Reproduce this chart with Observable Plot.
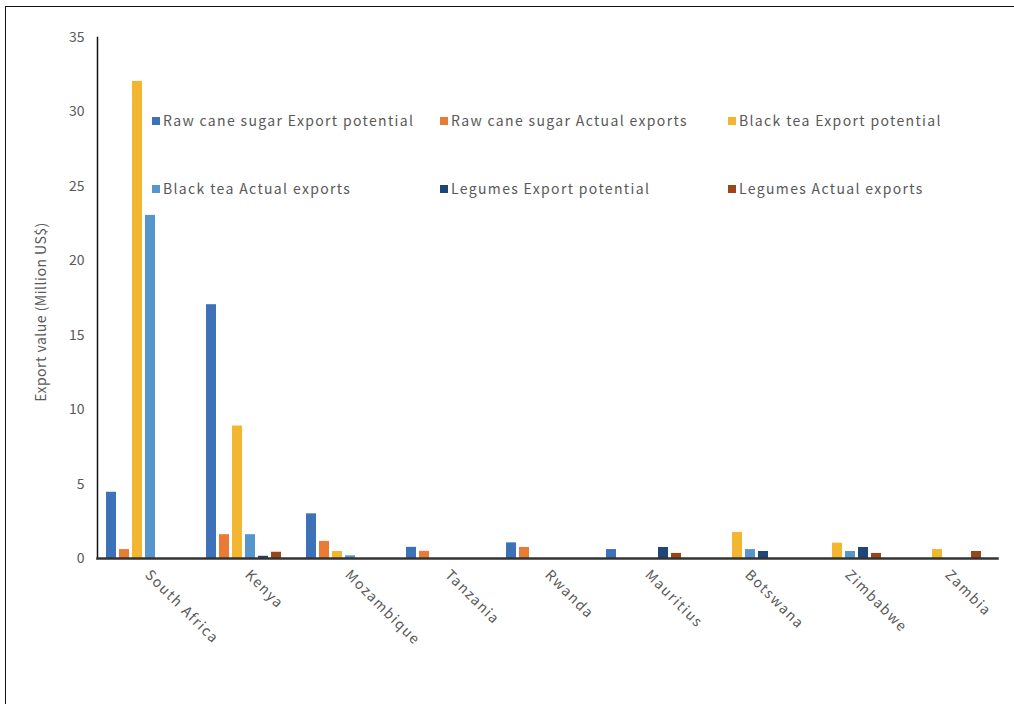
<!DOCTYPE html>
<html>
<head>
<meta charset="utf-8">
<script src="https://cdn.jsdelivr.net/npm/d3@7"></script>
<script src="https://cdn.jsdelivr.net/npm/@observablehq/plot@0.6"></script>
<style>
  html, body { margin: 0; padding: 0; background: #fff; overflow: hidden; }
  #wrap { position: relative; width: 1014px; height: 704px; }
  #border { position: absolute; left: 5px; top: 6px; width: 1100px; height: 900px; border: 1.5px solid #111; box-sizing: border-box; }
  #chart { position: absolute; left: 0; top: 0; }
  #legend { position: absolute; left: 0; top: 0; font-family: "Noto Sans CJK JP", "Noto Sans", sans-serif; font-size: 14px; color: #595959; letter-spacing: 1.35px; }
  .item { position: absolute; white-space: nowrap; line-height: 16px; }
  .sw { display: inline-block; width: 8px; height: 8px; margin-right: 3px; vertical-align: 1px; }
  #ylabel { position: absolute; left: 40px; top: 312px; transform: translate(-50%, -50%) rotate(-90deg); white-space: nowrap;
            font-family: "Noto Sans CJK JP", "Noto Sans", sans-serif; font-size: 14px; color: #595959; letter-spacing: 0.5px; }
  .fxax text { letter-spacing: 1.5px; }
</style>
</head>
<body>
<div id="wrap">
  <div id="border"></div>
  <div id="chart"></div>
  <div id="legend"></div>
  <div id="ylabel"></div>
</div>
<script>
const countries = ["South Africa", "Kenya", "Mozambique", "Tanzania", "Rwanda", "Mauritius", "Botswana", "Zimbabwe", "Zambia"];
const seriesNames = [
  "Raw cane sugar Export potential",
  "Raw cane sugar Actual exports",
  "Black tea Export potential",
  "Black tea Actual exports",
  "Legumes Export potential",
  "Legumes Actual exports"
];
const seriesColors = ["#3d71b8", "#ea7b34", "#f3b630", "#5696cd", "#1e4678", "#9a4619"];
const yLabel = "Export value (Million US$)";

const rawSugarPotential = [4.45, 17.05, 3.0, 0.75, 1.05, 0.6, 0, 0, 0];
const rawSugarActual    = [0.6, 1.6, 1.15, 0.48, 0.74, 0, 0, 0, 0];
const blackTeaPotential = [32.05, 8.9, 0.47, 0, 0, 0, 1.75, 1.03, 0.6];
const blackTeaActual    = [23.05, 1.6, 0.18, 0, 0, 0, 0.6, 0.47, 0];
const legumesPotential  = [0, 0.15, 0, 0, 0, 0.74, 0.47, 0.74, 0];
const legumesActual     = [0, 0.42, 0, 0, 0, 0.34, 0, 0.34, 0.47];

const yTicks = [0, 5, 10, 15, 20, 25, 30, 35];

const seriesValues = [rawSugarPotential, rawSugarActual, blackTeaPotential, blackTeaActual, legumesPotential, legumesActual];
const data = [];
countries.forEach((c, i) => {
  seriesNames.forEach((s, j) => {
    data.push({country: c, series: s, value: seriesValues[j][i]});
  });
});

const font = "'Noto Sans CJK JP', 'Noto Sans', sans-serif";

const chart = Plot.plot({
  width: 1014,
  height: 704,
  marginLeft: 94,
  marginRight: 14,
  marginTop: 37,
  marginBottom: 146,
  style: {fontFamily: font, fontSize: "14px", color: "#595959", background: "transparent"},
  fx: {domain: countries, paddingInner: 0, paddingOuter: 0},
  x: {domain: seriesNames, axis: null, paddingInner: 0.2, paddingOuter: 0.9, align: 0.35},
  y: {domain: [0, 35]},
  color: {domain: seriesNames, range: seriesColors},
  marks: [
    Plot.axisY({ticks: yTicks, tickSize: 0, tickPadding: 13, label: null, fontSize: 14}),
    Plot.axisFx({anchor: "bottom", tickRotate: 45, tickSize: 0, tickPadding: 14, label: null, fontSize: 14, className: "fxax"}),
    Plot.barY(data, {fx: "country", x: "series", y: "value", fill: "series"}),
    Plot.frame({anchor: "left", facet: "super", stroke: "#111", strokeWidth: 1.5}),
    Plot.frame({anchor: "bottom", facet: "super", stroke: "#333", strokeWidth: 2.5})
  ]
});
document.getElementById("chart").appendChild(chart);
document.getElementById("ylabel").textContent = yLabel;

// legend (inside plot area, two rows of three)
const legend = document.getElementById("legend");
const colX = [152, 440, 728];
const rowY = [112, 180];
seriesNames.forEach((s, j) => {
  const d = document.createElement("div");
  d.className = "item";
  d.style.left = colX[j % 3] + "px";
  d.style.top = rowY[Math.floor(j / 3)] + "px";
  d.innerHTML = `<span class="sw" style="background:${seriesColors[j]}"></span>${s}`;
  legend.appendChild(d);
});
</script>
</body>
</html>
